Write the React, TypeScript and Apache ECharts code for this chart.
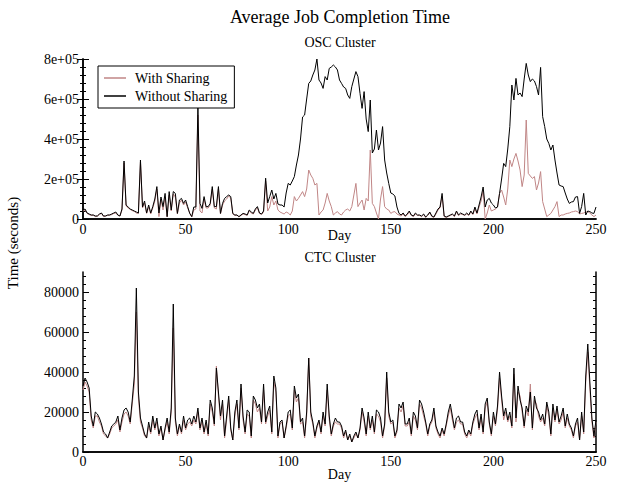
import React, { useEffect, useRef } from "react";
import * as echarts from "echarts";

// ---- Data ----
// OSC cluster, thousands of seconds, one value per day 0..250
const OSC_WITH_K = [
  40, 45, 28, 22, 18, 20, 12, 15, 22, 28,
  12, 15, 18, 20, 22, 28, 30, 18, 15, 45,
  280, 65, 55, 48, 42, 38, 30, 28, 285, 55,
  80, 28, 60, 25, 55, 90, 150, 12, 100, 45,
  110, 10, 120, 40, 125, 110, 25, 80, 95, 70,
  85, 55, 30, 10, 45, 50, 520, 40, 30, 100,
  55, 55, 70, 150, 55, 50, 150, 25, 70, 90,
  100, 115, 105, 25, 18, 20, 10, 18, 25, 22,
  18, 40, 30, 25, 45, 55, 28, 22, 35, 190,
  40, 60, 112, 70, 90, 45, 35, 30, 25, 35,
  30, 20, 40, 112, 90, 103, 120, 137, 112, 150,
  245, 220, 203, 170, 178, 20, 35, 45, 80, 128,
  90, 62, 20, 30, 37, 25, 20, 35, 45, 50,
  40, 62, 120, 178, 62, 80, 95, 45, 103, 90,
  345, 78, 62, 30, 0, 100, 162, 62, 50, 45,
  28, 35, 37, 25, 20, 15, 25, 12, 20, 35,
  18, 12, 25, 18, 18, 12, 22, 8, 18, 30,
  12, 8, 25, 45, 55, 115, 12, 8, 12, 18,
  22, 12, 35, 18, 25, 22, 18, 25, 18, 35,
  22, 50, 25, 60, 90, 140, 0, 30, 70, 40,
  45, 50, 60, 128, 145, 110, 70, 150, 295, 262,
  300, 328, 290, 245, 162, 220, 495, 228, 215, 203,
  212, 145, 180, 237, 87, 50, 12, 20, 28, 45,
  62, 87, 12, 20, 20, 25, 28, 30, 35, 37,
  40, 37, 25, 28, 30, 35, 37, 30, 20, 12,
  20,
];
const OSC_WITHOUT_K = [
  45, 50, 30, 25, 20, 20, 15, 15, 25, 30,
  15, 15, 20, 20, 25, 30, 35, 20, 15, 50,
  290, 70, 60, 50, 45, 40, 35, 30, 295, 60,
  90, 30, 70, 30, 62, 100, 162, 30, 110, 62,
  128, 12, 137, 45, 137, 128, 28, 95, 103, 78,
  95, 62, 28, 12, 60, 60, 560, 78, 53, 112,
  62, 62, 78, 162, 62, 62, 162, 28, 78, 103,
  112, 120, 112, 28, 20, 20, 12, 20, 28, 25,
  20, 45, 35, 28, 50, 62, 30, 25, 40, 204,
  80, 112, 145, 100, 128, 75, 70, 70, 60, 130,
  178, 170, 190, 212, 270, 320, 400, 510, 520, 600,
  678, 690, 720, 745, 800, 695, 680, 653, 712, 695,
  753, 760, 770, 760, 745, 695, 678, 660, 653, 620,
  603, 662, 700, 737, 712, 628, 553, 637, 500, 437,
  595, 330, 350, 445, 345, 380, 462, 295, 230, 178,
  130, 125, 115, 60, 28, 20, 30, 15, 25, 40,
  20, 15, 30, 20, 20, 15, 25, 10, 20, 35,
  15, 10, 30, 50, 60, 128, 15, 10, 15, 20,
  25, 15, 40, 20, 30, 25, 20, 30, 20, 40,
  25, 60, 30, 70, 110, 160, 60, 95, 103, 80,
  70, 55, 60, 128, 200, 278, 262, 350, 462, 670,
  595, 703, 620, 630, 612, 700, 778, 720, 687, 700,
  690, 662, 620, 758, 512, 462, 400, 378, 345, 370,
  295, 230, 170, 165, 162, 130, 100, 78, 85, 87,
  110, 112, 28, 62, 128, 20, 40, 37, 30, 28,
  60,
];
// CTC cluster, thousands of seconds, one value per day 0..250
const CTC_WITH_K = [
  31, 35, 33, 30, 16, 12, 18, 18, 15, 13,
  9, 8, 7, 9, 12, 13, 14, 16, 10, 15,
  19, 20, 18, 14, 24, 34, 70, 27, 15, 12,
  8, 7, 13, 9, 16, 11, 15, 8, 12, 6,
  11, 15, 9, 20, 62, 15, 8, 13, 9, 16,
  11, 14, 15, 13, 16, 14, 20, 11, 15, 9,
  14, 8, 24, 20, 13, 43, 28, 16, 24, 7,
  16, 26, 11, 6, 18, 24, 11, 32, 16, 9,
  19, 18, 7, 26, 24, 20, 22, 14, 31, 14,
  18, 21, 9, 35, 30, 7, 14, 15, 7, 12,
  18, 19, 11, 31, 25, 27, 14, 15, 7, 18,
  47, 18, 14, 7, 12, 15, 9, 18, 13, 31,
  16, 8, 13, 15, 14, 14, 12, 7, 10, 6,
  8, 5, 7, 9, 7, 11, 20, 15, 8, 18,
  11, 16, 9, 19, 18, 15, 7, 13, 37, 18,
  14, 15, 7, 10, 22, 20, 23, 13, 13, 15,
  8, 18, 16, 11, 24, 22, 18, 14, 8, 13,
  15, 20, 12, 9, 7, 11, 8, 13, 18, 22,
  16, 11, 15, 16, 14, 14, 9, 7, 10, 8,
  14, 17, 19, 11, 17, 9, 22, 25, 14, 8,
  18, 13, 21, 37, 26, 16, 20, 15, 18, 12,
  39, 15, 30, 28, 20, 12, 21, 18, 34, 11,
  26, 24, 18, 15, 17, 13, 23, 18, 8, 22,
  15, 21, 14, 16, 20, 12, 17, 13, 11, 7,
  13, 15, 6, 18, 9, 35, 50, 32, 15, 7,
  15,
];
const CTC_WITHOUT_K = [
  33, 37, 35, 32, 18, 13, 20, 19, 17, 14,
  10, 9, 7, 10, 13, 14, 15, 18, 11, 17,
  21, 22, 20, 15, 26, 38, 82, 30, 17, 13,
  9, 7, 15, 10, 18, 12, 17, 9, 13, 6,
  12, 17, 10, 22, 74, 17, 9, 14, 10, 18,
  12, 16, 17, 14, 18, 15, 22, 12, 17, 10,
  16, 9, 26, 22, 14, 42, 30, 18, 26, 8,
  18, 28, 12, 6, 20, 26, 12, 34, 18, 10,
  21, 20, 8, 28, 26, 22, 24, 15, 34, 15,
  20, 23, 10, 38, 32, 8, 15, 16, 7, 13,
  20, 21, 12, 33, 27, 29, 15, 17, 8, 20,
  47, 20, 15, 8, 13, 16, 10, 20, 14, 34,
  18, 9, 14, 17, 15, 15, 13, 8, 11, 6,
  9, 5, 8, 10, 7, 12, 22, 17, 9, 20,
  12, 18, 10, 21, 20, 17, 8, 14, 40, 20,
  15, 16, 8, 11, 24, 22, 25, 14, 14, 17,
  9, 20, 18, 12, 26, 24, 20, 15, 9, 14,
  16, 22, 13, 10, 8, 12, 9, 14, 20, 24,
  18, 12, 17, 18, 15, 15, 10, 8, 11, 9,
  15, 19, 21, 12, 19, 10, 24, 27, 15, 9,
  20, 14, 23, 40, 28, 18, 22, 16, 20, 13,
  42, 17, 33, 26, 22, 13, 23, 20, 30, 12,
  28, 22, 20, 16, 19, 14, 25, 20, 9, 24,
  16, 23, 15, 18, 22, 13, 19, 14, 12, 8,
  14, 17, 6, 20, 10, 38, 54, 35, 17, 8,
  16,
];
const UNIT = 1000; // arrays above are in thousands of seconds
const SERIES_NAMES = ["With Sharing", "Without Sharing"];
const CTC_MAJOR_TICKS = [0, 20000, 40000, 60000, 80000];
const CTC_MINOR_TICKS = [4000, 8000, 12000, 16000, 24000, 28000, 32000, 36000, 44000, 48000, 52000, 56000, 64000, 68000, 72000, 76000, 84000, 88000];

const FONT = '"Liberation Serif", "Times New Roman", Times, serif';
const PINK = "#c08686";

const toPairs = (arr: number[]) => arr.map((v, i) => [i, v * UNIT]);

export default function App() {
  const ref = useRef<HTMLDivElement>(null);
  useEffect(() => {
    if (!ref.current) return;
    const chart = echarts.init(ref.current, undefined, { renderer: "svg" });
    const txt = { fontFamily: FONT, fontSize: 14, color: "#000" };
    const axisLine = { show: true, lineStyle: { color: "#000", width: 1.5 } };
    const xBottom = (gridIndex: number, nameGap: number, margin: number) => ({
      type: "value", gridIndex, min: 0, max: 250, interval: 50, position: "bottom",
      axisLine, axisTick: { show: false }, splitLine: { show: false },
      axisLabel: { ...txt, margin },
      name: "Day", nameLocation: "middle", nameGap, nameMoveOverlap: false, nameTextStyle: txt,
    });
    const xTop = (gridIndex: number) => ({
      type: "value", gridIndex, min: 0, max: 250, interval: 50, position: "top",
      axisLine, axisTick: { show: false }, axisLabel: { show: false }, splitLine: { show: false },
    });
    const oscY = (position: string, labels: boolean) => ({
      type: "value", gridIndex: 0, min: 0, max: 800000, interval: 200000, position,
      axisLine, splitLine: { show: false },
      axisTick: { show: true, inside: true, length: 6, lineStyle: { color: "#000" } },
      minorTick: { show: true, splitNumber: 5, length: 3, lineStyle: { color: "#000" } },
      axisLabel: {
        show: labels, ...txt, margin: 4,
        formatter: (v: number) => (v === 0 ? "0" : `${v / 100000}e+05`),
      },
    });
    const ctcY = (position: string, labels: boolean, ticks: number[], len: number, line: boolean) => ({
      type: "value", gridIndex: 1, min: 0, max: 90000, interval: 20000, position,
      axisLine: line ? axisLine : { show: false }, splitLine: { show: false },
      axisTick: { show: true, inside: true, length: len, customValues: ticks, lineStyle: { color: "#000" } },
      axisLabel: { show: labels, ...txt, margin: 4, customValues: CTC_MAJOR_TICKS, formatter: (v: number) => String(v) },
    });
    const line = (name: string, color: string, data: number[][], idx: number) => ({
      type: "line", name, data, xAxisIndex: idx * 2, yAxisIndex: idx === 0 ? 0 : 2,
      symbol: "none", showSymbol: false, lineStyle: { color, width: 1 }, itemStyle: { color },
    });
    chart.setOption({
      animation: false,
      backgroundColor: "#fff",
      title: [
        { text: "Average Job Completion Time", left: 340, top: 8, textAlign: "center", padding: 0,
          textStyle: { fontFamily: FONT, fontSize: 18, fontWeight: "normal", color: "#000" } },
        { text: "OSC Cluster", left: 340, top: 35, textAlign: "center", padding: 0,
          textStyle: { ...txt, fontWeight: "normal" } },
        { text: "CTC Cluster", left: 340, top: 250, textAlign: "center", padding: 0,
          textStyle: { ...txt, fontWeight: "normal" } },
      ],
      legend: {
        data: SERIES_NAMES, orient: "vertical", left: 98, top: 66, icon: "rect",
        borderColor: "#000", borderWidth: 1, borderRadius: 0, padding: [5, 7, 5, 6],
        itemGap: 4, itemWidth: 22, itemHeight: 1.5, textStyle: { ...txt, padding: [0, 0, 0, 4] }, backgroundColor: "#fff",
      },
      grid: [
        { left: 83, right: 22, top: 59, height: 160 },
        { left: 83, right: 22, top: 272, height: 180 },
      ],
      xAxis: [xBottom(0, 9, 3), xTop(0), xBottom(1, 15, 2), xTop(1)],
      yAxis: [
        oscY("left", true), oscY("right", false),
        ctcY("left", true, CTC_MAJOR_TICKS, 6, true), ctcY("left", false, CTC_MINOR_TICKS, 3, false),
        ctcY("right", false, CTC_MAJOR_TICKS, 6, true), ctcY("right", false, CTC_MINOR_TICKS, 3, false),
      ],
      graphic: [
        { type: "text", x: 13, y: 243, rotation: Math.PI / 2,
          style: { text: "Time (seconds)", fontFamily: FONT, fontSize: 15, fill: "#000", align: "center", verticalAlign: "middle" } },
      ],
      series: [
        line(SERIES_NAMES[0], PINK, toPairs(OSC_WITH_K), 0),
        line(SERIES_NAMES[1], "#000", toPairs(OSC_WITHOUT_K), 0),
        line(SERIES_NAMES[0], PINK, toPairs(CTC_WITH_K), 1),
        line(SERIES_NAMES[1], "#000", toPairs(CTC_WITHOUT_K), 1),
      ],
    });
    return () => chart.dispose();
  }, []);
  return <div ref={ref} style={{ position: "fixed", left: 0, top: 0, width: 618, height: 485 }} />;
}
